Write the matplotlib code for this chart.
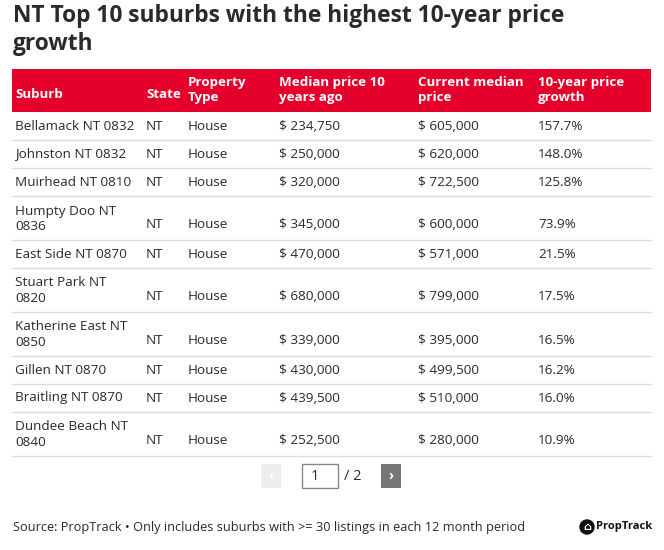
import matplotlib.pyplot as plt
from matplotlib.patches import Rectangle, Circle

plt.rcParams['font.family'] = ['Open Sans', 'DejaVu Sans']

# table data
suburbs = ["Bellamack NT 0832", "Johnston NT 0832", "Muirhead NT 0810", "Humpty Doo NT\n0836",
           "East Side NT 0870", "Stuart Park NT\n0820", "Katherine East NT\n0850", "Gillen NT 0870",
           "Braitling NT 0870", "Dundee Beach NT\n0840"]
states = ["NT"] * 10
prop_types = ["House"] * 10
price_10y_ago = [234750, 250000, 320000, 345000, 470000, 680000, 339000, 430000, 439500, 252500]
price_now = [605000, 620000, 722500, 600000, 571000, 799000, 395000, 499500, 510000, 280000]
growth = [157.7, 148.0, 125.8, 73.9, 21.5, 17.5, 16.5, 16.2, 16.0, 10.9]
headers = ["Suburb", "State", "Property\nType", "Median price 10\nyears ago", "Current median\nprice", "10-year price\ngrowth"]

RED = "#e4002b"
TXT = "#2a2a2a"

fig = plt.figure(figsize=(6.64, 5.5), dpi=100)
ax = fig.add_axes([0, 0, 1, 1])
ax.set_xlim(0, 664)
ax.set_ylim(550, 0)
ax.axis('off')

# title
ax.text(13, 30, "NT Top 10 suburbs with the highest 10-year price\ngrowth", fontsize=16.4,
        fontweight='bold', color=TXT, va='center', ha='left', linespacing=1.25)

# header
col_x = [15, 146, 188, 279, 418, 538]
ax.add_patch(Rectangle((12, 69), 639, 43, color=RED, lw=0))
for x, h in zip(col_x, headers):
    y = 95 if "\n" not in h else 90
    ax.text(x, y, h, fontsize=9.6, fontweight='bold', color='white', va='center', ha='left',
            linespacing=1.2)

# rows
row_h1, row_h2 = 28, 44
y0 = 112
for i in range(len(suburbs)):
    two = "\n" in suburbs[i]
    h = row_h2 if two else row_h1
    yc = y0 + 14 if not two else y0 + h - 16
    cells = [states[i], prop_types[i], "$ {:,}".format(price_10y_ago[i]),
             "$ {:,}".format(price_now[i]), "{:.1f}%".format(growth[i])]
    if two:
        ax.text(col_x[0], y0 + h / 2 + 1, suburbs[i], fontsize=9.7, color=TXT, va='center',
                ha='left', linespacing=1.3)
    else:
        ax.text(col_x[0], yc, suburbs[i], fontsize=9.7, color=TXT, va='center', ha='left')
    for x, c in zip(col_x[1:], cells):
        ax.text(x, yc, c, fontsize=9.7, color=TXT, va='center', ha='left')
    y0 += h
    ax.plot([12, 651], [y0, y0], color="#dddddd", lw=1)

# pagination
ax.add_patch(Rectangle((261, 464), 20, 24, color="#eeeeee", lw=0))
ax.text(271, 476, "‹", fontsize=10, color="white", ha='center', va='center', fontweight='bold')
ax.add_patch(Rectangle((302, 464), 36, 24, facecolor="white", edgecolor="#888888", lw=1))
ax.text(311, 476, "1", fontsize=10.5, color=TXT, ha='left', va='center')
ax.text(344, 476, "/ 2", fontsize=10.5, color=TXT, ha='left', va='center')
ax.add_patch(Rectangle((381, 464), 20, 24, color="#777777", lw=0))
ax.text(391, 476, "›", fontsize=10, color="white", ha='center', va='center', fontweight='bold')

# footer
ax.text(13, 528, "Source: PropTrack • Only includes suburbs with >= 30 listings in each 12 month period",
        fontsize=9.2, color=TXT, ha='left', va='center')
ax.add_patch(Circle((587, 527), 7, color="#111111"))
ax.text(587, 527.5, "⌂", fontsize=8, color="white", ha='center', va='center', fontweight='bold')
ax.text(596, 527, "PropTrack", fontsize=8, color="#111111", ha='left', va='center', fontweight='bold')

fig.savefig("out.png", dpi=100)
